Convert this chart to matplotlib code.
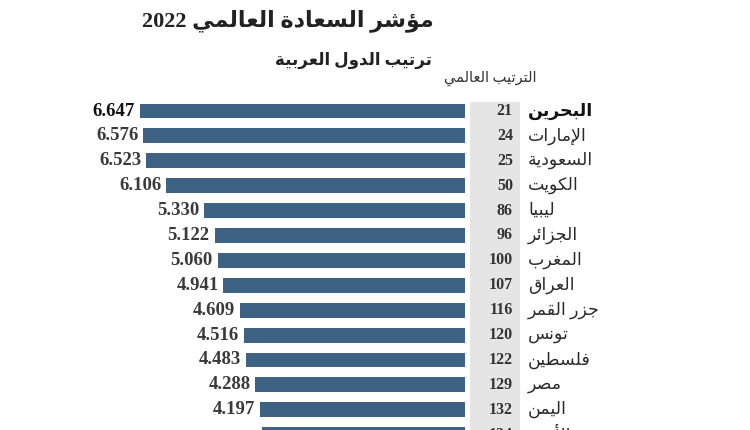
import re
import matplotlib
matplotlib.use("Agg")
import matplotlib.pyplot as plt
from matplotlib.patches import Rectangle

# ---------------- data ----------------
countries = ["البحرين", "الإمارات", "السعودية", "الكويت", "ليبيا", "الجزائر", "المغرب",
             "العراق", "جزر القمر", "تونس", "فلسطين", "مصر", "اليمن", "الأردن"]
ranks = [21, 24, 25, 50, 86, 96, 100, 107, 116, 120, 122, 129, 132, 134]
scores = [6.647, 6.576, 6.523, 6.106, 5.330, 5.122, 5.060, 4.941, 4.609, 4.516,
          4.483, 4.288, 4.197, 4.152]
title = "مؤشر السعادة العالمي 2022"
subtitle = "ترتيب الدول العربية"
rank_header = "الترتيب العالمي"

# ---------------- minimal Arabic shaping ----------------
_FORMS = {  # base: (first presentation code, number of forms)
    0x0621: (0xFE80, 1), 0x0622: (0xFE81, 2), 0x0623: (0xFE83, 2), 0x0624: (0xFE85, 2),
    0x0625: (0xFE87, 2), 0x0626: (0xFE89, 4), 0x0627: (0xFE8D, 2), 0x0628: (0xFE8F, 4),
    0x0629: (0xFE93, 2), 0x062A: (0xFE95, 4), 0x062B: (0xFE99, 4), 0x062C: (0xFE9D, 4),
    0x062D: (0xFEA1, 4), 0x062E: (0xFEA5, 4), 0x062F: (0xFEA9, 2), 0x0630: (0xFEAB, 2),
    0x0631: (0xFEAD, 2), 0x0632: (0xFEAF, 2), 0x0633: (0xFEB1, 4), 0x0634: (0xFEB5, 4),
    0x0635: (0xFEB9, 4), 0x0636: (0xFEBD, 4), 0x0637: (0xFEC1, 4), 0x0638: (0xFEC5, 4),
    0x0639: (0xFEC9, 4), 0x063A: (0xFECD, 4), 0x0641: (0xFED1, 4), 0x0642: (0xFED5, 4),
    0x0643: (0xFED9, 4), 0x0644: (0xFEDD, 4), 0x0645: (0xFEE1, 4), 0x0646: (0xFEE5, 4),
    0x0647: (0xFEE9, 4), 0x0648: (0xFEED, 2), 0x0649: (0xFEEF, 2), 0x064A: (0xFEF1, 4),
}
_LAMALEF = {0x0622: 0xFEF5, 0x0623: 0xFEF7, 0x0625: 0xFEF9, 0x0627: 0xFEFB}


def shape(text):
    toks = []  # (first_code, nforms) or raw char
    i = 0
    while i < len(text):
        c = ord(text[i])
        if c == 0x0644 and i + 1 < len(text) and ord(text[i + 1]) in _LAMALEF:
            toks.append((_LAMALEF[ord(text[i + 1])], 2))
            i += 2
            continue
        toks.append(_FORMS.get(c, text[i]))
        i += 1
    out = []
    for k, t in enumerate(toks):
        if isinstance(t, str):
            out.append(t)
            continue
        base, n = t
        prev = toks[k - 1] if k > 0 else None
        nxt = toks[k + 1] if k + 1 < len(toks) else None
        pj = n > 1 and isinstance(prev, tuple) and prev[1] == 4
        nj = n == 4 and isinstance(nxt, tuple) and nxt[1] > 1
        if pj and nj:
            off = 3
        elif pj:
            off = 1
        elif nj:
            off = 2
        else:
            off = 0
        out.append(chr(base + off))
    s = "".join(out)[::-1]
    return re.sub(r"[0-9A-Za-z.]+", lambda m: m.group(0)[::-1], s)


# ---------------- figure ----------------
W, H = 750, 430
fig = plt.figure(figsize=(W / 100, H / 100), dpi=100)
ax = fig.add_axes([0, 0, 1, 1])
ax.set_axis_off()

PX_PER_UNIT = 48.9
X0 = 465.0            # bar anchor (px)
ROW0, PITCH = 111.0, 24.9

ax.set_xlim(X0 / PX_PER_UNIT, (X0 - W) / PX_PER_UNIT)
ax.set_ylim((H - ROW0) / PITCH, -ROW0 / PITCH)

FAM = ["Liberation Serif", "DejaVu Sans"]
BAR = "#3e6283"

def fx(px):
    return px / W

def fy(py):
    return 1 - py / H

# gray rank column
ax.add_patch(Rectangle((fx(470), 0), fx(520) - fx(470), fy(102),
                       transform=fig.transFigure, facecolor="#e5e5e5",
                       edgecolor="none", zorder=0.5))

ypos = list(range(len(countries)))
ax.barh(ypos, scores, height=0.6, left=0, color=BAR, zorder=2)

for i, (v, r, c) in enumerate(zip(scores, ranks, countries)):
    first = i == 0
    ax.annotate(f"{v:.3f}", (v, i), xytext=(-3.5, 0), textcoords="offset points",
                ha="right", va="center", family=FAM, fontweight="bold",
                fontsize=13.5, color="#111" if first else "#3a3a3a",
                zorder=3)
    ax.text(-0.98, i, str(r), ha="right", va="center", family=FAM,
            fontweight="bold", fontsize=11.5, color="#333", zorder=3)
    ax.text(-1.29, i, shape(c), ha="left", va="center", family=FAM,
            fontweight="bold" if first else "normal", fontsize=12.5,
            color="#111" if first else "#2a2a2a", zorder=3)

fig.text(fx(288), fy(21), shape(title), ha="center", va="center", family=FAM,
         fontweight="bold", fontsize=16, color="#222")
fig.text(fx(432), fy(60), shape(subtitle), ha="right", va="center", family=FAM,
         fontweight="bold", fontsize=12, color="#222")
fig.text(fx(537), fy(78), shape(rank_header), ha="right", va="center", family=FAM,
         fontsize=10.5, color="#333")

fig.savefig("out.png", dpi=100, facecolor="white")
